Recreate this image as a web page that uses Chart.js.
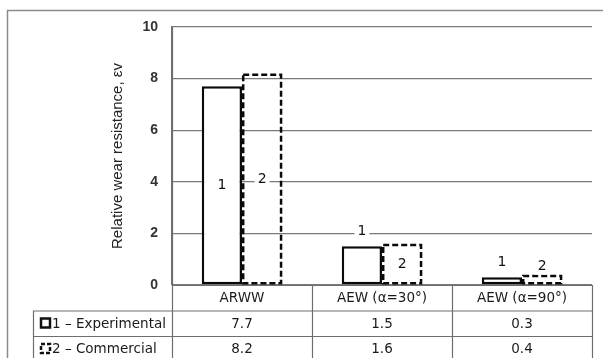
<!DOCTYPE html>
<html>
<head>
<meta charset="utf-8">
<script src="https://cdn.jsdelivr.net/npm/chart.js@4.4.0/dist/chart.umd.min.js"></script>
<style>
html, body { margin: 0; padding: 0; background: #fff; }
#wrap { width: 603px; height: 358px; position: relative; }
</style>
</head>
<body>
<div id="wrap"><canvas id="grafica"></canvas></div>
<script>
// datos
const categorias = ['ARWW', 'AEW (α=30°)', 'AEW (α=90°)'];
const experimental = [7.7, 1.5, 0.3];
const comercial = [8.2, 1.6, 0.4];
const nombresSeries = ['1 – Experimental', '2 – Commercial'];
const marcas = ['1', '2'];
const ticksY = [0, 2, 4, 6, 8, 10];

const fuenteTabla = '13.5px "DejaVu Sans", Verdana, sans-serif';
const colorLinea = '#6e6e6e';

// marco, tabla de datos y contorno discontinuo
const tablaPlugin = {
    id: 'tabla',
    afterDatasetsDraw(chart) {
        const ctx = chart.ctx;
        // contorno discontinuo de la serie 2
        const meta2 = chart.getDatasetMeta(1);
        ctx.save();
        ctx.strokeStyle = '#0a0a0a';
        ctx.lineWidth = 2.5;
        ctx.setLineDash([6, 3]);
        meta2.data.forEach(bar => {
            const x0 = bar.x - bar.width / 2 + 1.2;
            const x1 = bar.x + bar.width / 2 - 1.2;
            ctx.strokeRect(x0, bar.y + 1.2, x1 - x0, bar.base - bar.y - 2.4);
        });
        ctx.restore();

        // etiquetas 1 y 2
        ctx.save();
        ctx.font = '14px "DejaVu Sans", Verdana, sans-serif';
        ctx.textAlign = 'center';
        ctx.textBaseline = 'middle';
        [0, 1].forEach(d => {
            const meta = chart.getDatasetMeta(d);
            const offset = d === 0 ? 15 : 8;
            meta.data.forEach(bar => {
                const alto = bar.base - bar.y;
                let y = alto > 40 ? bar.y + alto / 2 : bar.y - offset;
                const w = ctx.measureText(marcas[d]).width + 6;
                ctx.fillStyle = '#fff';
                ctx.fillRect(bar.x - w / 2, y - 8, w, 16);
                ctx.fillStyle = '#111';
                ctx.fillText(marcas[d], bar.x, y);
            });
        });
        ctx.restore();
    },
    afterDraw(chart) {
        const ctx = chart.ctx;
        const area = chart.chartArea;
        const x = chart.scales.x;
        const n = categorias.length;
        const bordes = [];
        for (let i = 0; i <= n; i++) bordes.push(x.getPixelForValue(i - 0.5));
        const filaAlto = 25.5;
        const y0 = area.bottom;
        const y1 = y0 + filaAlto;
        const y2 = y1 + filaAlto;
        const izq = 33;

        ctx.save();
        // marco exterior
        ctx.strokeStyle = '#8c8c8c';
        ctx.lineWidth = 1.5;
        ctx.beginPath();
        ctx.moveTo(7.5, 358);
        ctx.lineTo(7.5, 10.5);
        ctx.lineTo(603, 10.5);
        ctx.stroke();

        // lineas de la tabla
        ctx.strokeStyle = colorLinea;
        ctx.lineWidth = 1.2;
        ctx.beginPath();
        ctx.moveTo(bordes[0], y0 + 0.5); ctx.lineTo(bordes[n], y0 + 0.5);
        ctx.moveTo(izq, y1 + 0.5); ctx.lineTo(bordes[n], y1 + 0.5);
        ctx.moveTo(izq, y2 + 0.5); ctx.lineTo(bordes[n], y2 + 0.5);
        ctx.moveTo(izq + 0.5, y1); ctx.lineTo(izq + 0.5, 358);
        bordes.forEach(b => {
            const bx = Math.round(b) + 0.5;
            ctx.moveTo(bx, b === bordes[0] ? area.top : y0);
            ctx.lineTo(bx, 358);
        });
        ctx.stroke();

        // textos
        ctx.fillStyle = '#1a1a1a';
        ctx.font = fuenteTabla;
        ctx.textAlign = 'center';
        ctx.textBaseline = 'middle';
        categorias.forEach((c, i) => {
            const cx = x.getPixelForValue(i);
            ctx.fillText(c, cx, y0 + filaAlto / 2 + 1);
            ctx.fillText(experimental[i].toFixed(1), cx, y1 + filaAlto / 2 + 1);
            ctx.fillText(comercial[i].toFixed(1), cx, y2 + filaAlto / 2 + 1);
        });
        ctx.textAlign = 'left';
        ctx.fillText(nombresSeries[0], 52, y1 + filaAlto / 2 + 1);
        ctx.fillText(nombresSeries[1], 52, y2 + filaAlto / 2 + 1);

        // iconos de leyenda
        ctx.strokeStyle = '#111';
        ctx.lineWidth = 2.5;
        ctx.strokeRect(41, y1 + 8, 9, 9);
        ctx.setLineDash([4, 2]);
        ctx.strokeRect(41, y2 + 8, 9, 9);
        ctx.restore();
    }
};

const ctx1 = document.getElementById('grafica').getContext('2d');
const grafica = new Chart(ctx1, {
    type: 'bar',
    data: {
        labels: categorias,
        datasets: [{
            label: nombresSeries[0],
            data: experimental,
            backgroundColor: '#ffffff',
            borderColor: '#0a0a0a',
            borderWidth: 2.5,
            borderSkipped: false,
            barPercentage: 1,
            categoryPercentage: 0.575
        }, {
            label: nombresSeries[1],
            data: comercial,
            backgroundColor: 'rgba(0,0,0,0)',
            borderWidth: 0,
            barPercentage: 1,
            categoryPercentage: 0.575
        }]
    },
    options: {
        responsive: true,
        maintainAspectRatio: false,
        animation: false,
        layout: { padding: { left: 0, right: 11, top: 27, bottom: 73 } },
        plugins: {
            legend: { display: false },
            tooltip: { enabled: false }
        },
        scales: {
            x: { display: false },
            y: {
                min: 0,
                max: 10,
                afterBuildTicks: s => { s.ticks = ticksY.map(v => ({ value: v })); },
                afterFit: s => { s.width = 172; },
                ticks: {
                    padding: 14,
                    color: '#333',
                    font: { family: '"Liberation Sans", Arial, sans-serif', size: 14, weight: 'bold' }
                },
                grid: { color: '#7a7a7a', lineWidth: 1.3, drawTicks: false },
                border: { color: colorLinea, width: 1.2 },
                title: {
                    display: true,
                    text: 'Relative wear resistance, εv',
                    color: '#222',
                    font: { family: '"Liberation Sans", Arial, sans-serif', size: 15 },
                    padding: { top: 109, bottom: 0 }
                }
            }
        }
    },
    plugins: [tablaPlugin]
});
</script>
</body>
</html>
